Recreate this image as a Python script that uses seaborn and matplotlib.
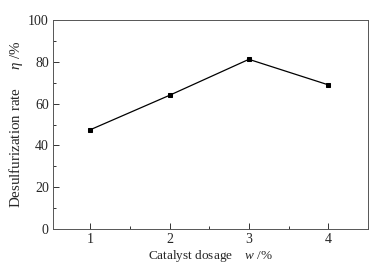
import pandas as pd
import seaborn as sns
import matplotlib.pyplot as plt
from matplotlib.ticker import MultipleLocator

sns.set_theme(style="ticks")
plt.rcParams["font.family"] = ["Liberation Serif", "DejaVu Serif"]
plt.rcParams["mathtext.fontset"] = "custom"
plt.rcParams["mathtext.rm"] = "Liberation Serif"
plt.rcParams["mathtext.it"] = "Liberation Serif:italic"

dosage = [1, 2, 3, 4]
rate = [47.5, 64.0, 81.2, 69.0]

df = pd.DataFrame({"dosage": dosage, "rate": rate})

fig = plt.figure(figsize=(3.84, 2.71), dpi=100)
ax = fig.add_axes([0.138, 0.155, 0.82, 0.771])

sns.lineplot(data=df, x="dosage", y="rate", ax=ax, color="black",
             linewidth=0.9, marker="s", markersize=3.5,
             markeredgecolor="black", markerfacecolor="black")

ax.set_xlim(0.53, 4.5)
ax.set_ylim(0, 100)
ax.xaxis.set_major_locator(MultipleLocator(1))
ax.xaxis.set_minor_locator(MultipleLocator(0.5))
ax.yaxis.set_major_locator(MultipleLocator(20))
ax.yaxis.set_minor_locator(MultipleLocator(10))
ax.tick_params(which="both", direction="in", labelsize=10, color="#333333",
               width=0.7, pad=3)
ax.tick_params(which="major", length=4)
ax.tick_params(which="minor", length=2.5)
for s in ax.spines.values():
    s.set_color("#555555")
    s.set_linewidth(0.7)

ax.set_xlabel(r"Catalyst dosage    $\mathit{w}$ /%", fontsize=9.5, labelpad=1)
ax.set_ylabel(r"Desulfurization rate     $\eta$ /%", fontsize=10.8, labelpad=2)

fig.savefig("out.png", dpi=100)
